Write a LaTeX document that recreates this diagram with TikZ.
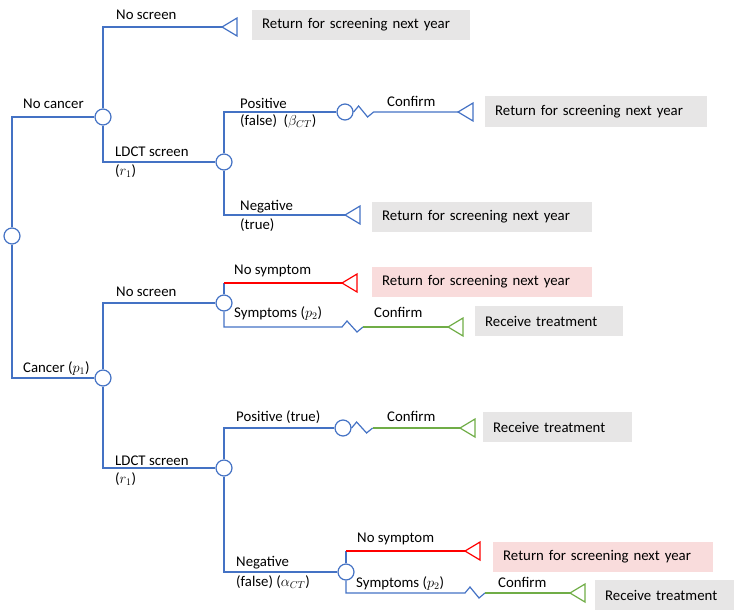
\documentclass[tikz,border=0pt]{standalone}
\usepackage{fontspec}
\setmainfont{Carlito}
\definecolor{tblue}{HTML}{4472C4}
\definecolor{tred}{HTML}{FF0000}
\definecolor{tgreen}{HTML}{70AD47}
\definecolor{boxgray}{HTML}{E7E6E6}
\definecolor{boxpink}{HTML}{F9DCDC}
\tikzset{
  chance/.style={circle,draw=tblue,fill=white,line width=1.2pt,minimum size=16pt,inner sep=0pt},
  lbl/.style={anchor=west,inner sep=0pt,font=\fontsize{14.8}{17}\selectfont},
  outbox/.style={rectangle,fill=boxgray,minimum height=30pt,inner xsep=10pt,anchor=west,align=left,font=\fontsize{14.8}{17}\selectfont},
  pinkbox/.style={outbox,fill=boxpink},
  bl/.style={draw=tblue,line width=1.2pt},
  rd/.style={draw=tred,line width=1.2pt},
  gr/.style={draw=tgreen,line width=1.2pt},
  tri/.style={line width=1.2pt,line join=miter},
}
\begin{document}
\begin{tikzpicture}[x=1pt,y=-1pt]
\useasboundingbox (0,0) rectangle (734,610);
% chance nodes
\node[chance] (C0) at (12,236) {};
\node[chance] (C1) at (103,117) {};
\node[chance] (C2) at (224,162) {};
\node[chance] (C3) at (345,112) {};
\node[chance] (C4) at (103,378) {};
\node[chance] (C5) at (224,303) {};
\node[chance] (C6) at (224,468) {};
\node[chance] (C7) at (343,428) {};
\node[chance] (C8) at (346,572) {};
% terminal tips
\coordinate (T1) at (222,27);
\coordinate (T2) at (458,112);
\coordinate (T3) at (345,215);
\coordinate (T4) at (342,283);
\coordinate (T5) at (448,327);
\coordinate (T6) at (460,428);
\coordinate (T7) at (465,551);
\coordinate (T8) at (570,593);
% outcome boxes
\node[outbox,text width=198pt] (B1) at (252,25) {Return for screening next year};
\node[outbox,text width=202pt] (B2) at (485,111.5) {Return for screening next year};
\node[outbox,text width=200pt] (B3) at (372,217) {Return for screening next year};
\node[pinkbox,text width=200pt] (B4) at (372,281.5) {Return for screening next year};
\node[outbox,text width=128pt] (B5) at (475,321) {Receive treatment};
\node[outbox,text width=129pt] (B6) at (483,427) {Receive treatment};
\node[pinkbox,text width=200pt] (B7) at (493,556.5) {Return for screening next year};
\node[outbox,text width=119pt] (B8) at (595,595) {Receive treatment};
% connectors
\draw[bl] (C0.north) |- (C1.west);
\draw[bl] (C0.south) |- (C4.west);
\draw[bl] (C1.north) |- (T1);
\draw[bl] (C1.south) |- (C2.west);
\draw[bl] (C2.north) |- (C3.west);
\draw[bl] (C2.south) |- (T3);
\draw[bl] (C3.east) -- ++(5,-6) -- ++(9,11) -- ++(6,-5) coordinate (Z1) -- (T2);
\draw[bl] (C4.north) |- (C5.west);
\draw[bl] (C4.south) |- (C6.west);
\draw[bl] (C5.north) -- (C5.north |- T4) coordinate (K1);
\draw[rd] (K1) -- (T4);
\draw[bl] (C5.south) |- (342,327) -- ++(5,-6) -- ++(10,11) -- ++(6,-5) coordinate (Z2);
\draw[gr] (Z2) -- (T5);
\draw[bl] (C6.north) |- (C7.west);
\draw[bl] (C6.south) |- (C8.west);
\draw[bl] (C7.east) -- ++(5,-6) -- ++(10,11) -- ++(6,-5) coordinate (Z3);
\draw[gr] (Z3) -- (T6);
\draw[bl] (C8.north) -- (C8.north |- T7) coordinate (K2);
\draw[rd] (K2) -- (T7);
\draw[bl] (C8.south) |- (465,593) -- ++(5,-6) -- ++(9,11) -- ++(6,-5) coordinate (Z4);
\draw[gr] (Z4) -- (T8);
% triangles
\draw[tri,draw=tblue] (T1) -- ++(15,-9) -- ++(0,18) -- cycle;
\draw[tri,draw=tblue] (T2) -- ++(15,-9) -- ++(0,18) -- cycle;
\draw[tri,draw=tblue] (T3) -- ++(15,-9) -- ++(0,18) -- cycle;
\draw[tri,draw=tred] (T4) -- ++(15,-9) -- ++(0,18) -- cycle;
\draw[tri,draw=tgreen] (T5) -- ++(15,-9) -- ++(0,18) -- cycle;
\draw[tri,draw=tgreen] (T6) -- ++(15,-9) -- ++(0,18) -- cycle;
\draw[tri,draw=tred] (T7) -- ++(15,-9) -- ++(0,18) -- cycle;
\draw[tri,draw=tgreen] (T8) -- ++(15,-9) -- ++(0,18) -- cycle;
% labels
\node[lbl] (L1) at (116,15) {No screen};
\node[lbl] (L2) at (23,104) {No cancer};
\node[lbl] (L3) at (115,152) {LDCT screen};
\node[lbl] (L4) at (115,171) {($r_1$)};
\node[lbl] (L5) at (240,103) {Positive};
\node[lbl] (L6) at (240,121) {(false)\ \ ($\beta_{CT}$)};
\node[lbl] (L7) at (387,101) {Confirm};
\node[lbl] (L8) at (240,207) {Negative};
\node[lbl] (L9) at (240,225) {(true)};
\node[lbl] (L10) at (116,292) {No screen};
\node[lbl] (L11) at (23,368) {Cancer ($p_1$)};
\node[lbl] (L12) at (234,271) {No symptom};
\node[lbl] (L13) at (234,313) {Symptoms ($p_2$)};
\node[lbl] (L14) at (374,312) {Confirm};
\node[lbl] (L15) at (115,461) {LDCT screen};
\node[lbl] (L16) at (115,479) {($r_1$)};
\node[lbl] (L17) at (236,417) {Positive (true)};
\node[lbl] (L18) at (387,416) {Confirm};
\node[lbl] (L19) at (236,563) {Negative};
\node[lbl] (L20) at (236,582) {(false) ($\alpha_{CT}$)};
\node[lbl] (L21) at (357,539) {No symptom};
\node[lbl] (L22) at (356,583) {Symptoms ($p_2$)};
\node[lbl] (L23) at (498,582) {Confirm};
\end{tikzpicture}
\end{document}
